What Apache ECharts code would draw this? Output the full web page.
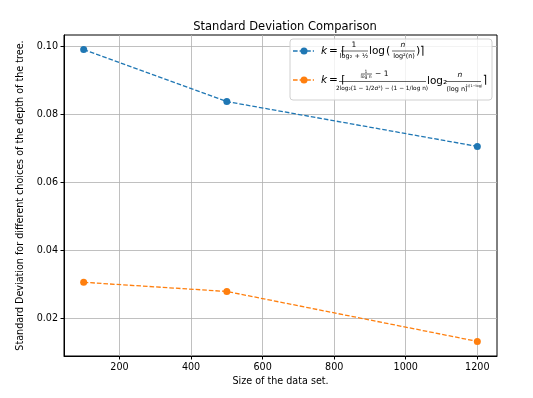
<!DOCTYPE html>
<html>
<head>
<meta charset="utf-8">
<script src="https://cdn.jsdelivr.net/npm/echarts@6/dist/echarts.min.js"></script>
<style>
  html, body { margin: 0; padding: 0; background: #fff; }
  #chart { width: 533px; height: 398px; }
</style>
</head>
<body>
<div id="chart"></div>
<script>
// data
var dataSizes = [100, 500, 1200];
var sdFormula1 = [0.0991, 0.0838, 0.0706];
var sdFormula2 = [0.0306, 0.0279, 0.0132];
var xTicks = [200, 400, 600, 800, 1000, 1200];
var yTicks = [0.02, 0.04, 0.06, 0.08, 0.10];

var blue = '#1f77b4', orange = '#ff7f0e';
var font = 'DejaVu Sans';

// matplotlib style 5% margins
function pad(arr) {
    var lo = Math.min.apply(null, arr), hi = Math.max.apply(null, arr);
    var m = (hi - lo) * 0.05;
    return [lo - m, hi + m];
}
var xr = pad(dataSizes);
var yr = pad(sdFormula1.concat(sdFormula2));

var chart = echarts.init(document.getElementById('chart'));

// legend drawn by hand (math text)
function T(x, y, s, size, align, italic) {
    return {
        type: 'text', x: x, y: y, silent: true, z: 102,
        style: {
            text: s, fill: '#000', fontFamily: font, fontSize: size,
            fontStyle: italic ? 'italic' : 'normal',
            align: align || 'left', verticalAlign: 'middle'
        }
    };
}
function bar(x1, x2, y) {
    return {
        type: 'line', silent: true, z: 102,
        shape: { x1: x1, y1: y, x2: x2, y2: y },
        style: { stroke: '#000', lineWidth: 0.6 }
    };
}
function icon(y, color) {
    return [
        { type: 'line', silent: true, z: 102, shape: { x1: 293, y1: y, x2: 314, y2: y },
          style: { stroke: color, lineWidth: 1.3, lineDash: [4.6, 2] } },
        { type: 'circle', silent: true, z: 103, shape: { cx: 304, cy: y, r: 3.5 },
          style: { fill: color } }
    ];
}

var legendEls = [
    { type: 'rect', silent: true, z: 101, shape: { x: 290, y: 39, width: 202, height: 61, r: 3 },
      style: { fill: 'rgba(255,255,255,0.8)', stroke: '#d0d0d0', lineWidth: 1 } }
].concat(icon(51, blue), [
    T(321, 51, 'k', 10.5, 'left', true),
    T(329, 51, '= ⌈', 10.5),
    T(354, 45.5, '1', 7.5, 'center'),
    bar(341, 368, 51),
    T(354, 56.5, 'log₂ + ½', 6.5, 'center'),
    T(369, 51, 'log', 10.5),
    T(386, 51, '(', 11),
    T(403, 45.5, 'n', 7.5, 'center', true),
    bar(392, 415, 51),
    T(404, 56.5, 'log²(n)', 6.5, 'center'),
    T(416, 51, ')⌉', 11)
], icon(80, orange), [
    T(321, 80, 'k', 10.5, 'left', true),
    T(329, 80, '= ⌈', 10.5),
    T(366, 71.5, '1', 4.5, 'center'),
    bar(361, 372, 74),
    T(366, 76.5, 'log n', 4.5, 'center'),
    T(375, 74.5, '− 1', 7.5),
    bar(339, 426, 81.5),
    T(382, 88, '2log₂(1 − 1/2σ²) − (1 − 1/log n)', 5.8, 'center'),
    T(427, 81, 'log₂', 10.5),
    T(460, 75.5, 'n', 7.5, 'center', true),
    bar(446, 481, 81.5),
    T(457, 89, '(log n)', 6.5, 'center'),
    T(474, 86.5, '1/(1−log)', 3.5, 'center'),
    T(483, 80, '⌉', 11)
]);

chart.setOption({
    animation: false,
    backgroundColor: '#fff',
    title: {
        text: 'Standard Deviation Comparison',
        left: 280, top: 16, textAlign: 'center',
        textStyle: { fontFamily: font, fontSize: 11.5, fontWeight: 'normal', color: '#000' }
    },
    grid: {
        left: 64, right: 36, top: 35, bottom: 42,
        show: true, borderColor: '#000', borderWidth: 1, backgroundColor: 'transparent'
    },
    xAxis: {
        type: 'value', min: xr[0], max: xr[1],
        name: 'Size of the data set.', nameLocation: 'middle', nameGap: 19,
        nameTextStyle: { fontFamily: font, fontSize: 9.6, color: '#000' },
        axisLine: { show: true, lineStyle: { color: '#000', width: 1 } },
        axisTick: { show: true, customValues: xTicks, length: 3.5, lineStyle: { color: '#000' } },
        axisLabel: { customValues: xTicks, fontFamily: font, fontSize: 9.6, color: '#000', margin: 6,
                     formatter: function (v) { return String(v); } },
        splitLine: { show: true, customValues: xTicks, lineStyle: { color: '#b0b0b0', width: 0.8 } }
    },
    yAxis: {
        type: 'value', min: yr[0], max: yr[1],
        name: 'Standard Deviation for different choices of the depth of the tree.',
        nameLocation: 'middle', nameGap: 37, nameRotate: 90,
        nameTextStyle: { fontFamily: font, fontSize: 9.6, color: '#000' },
        axisLine: { show: true, lineStyle: { color: '#000', width: 1 } },
        axisTick: { show: true, customValues: yTicks, length: 3.5, lineStyle: { color: '#000' } },
        axisLabel: { customValues: yTicks, fontFamily: font, fontSize: 9.6, color: '#000', margin: 6,
                     formatter: function (v) { return v.toFixed(2); } },
        splitLine: { show: true, customValues: yTicks, lineStyle: { color: '#b0b0b0', width: 0.8 } }
    },
    series: [{
        type: 'line', name: 'formula1',
        data: dataSizes.map(function (x, i) { return [x, sdFormula1[i]]; }),
        symbol: 'circle', symbolSize: 7,
        itemStyle: { color: blue },
        lineStyle: { color: blue, width: 1.3, type: [4.6, 2] }
    }, {
        type: 'line', name: 'formula2',
        data: dataSizes.map(function (x, i) { return [x, sdFormula2[i]]; }),
        symbol: 'circle', symbolSize: 7,
        itemStyle: { color: orange },
        lineStyle: { color: orange, width: 1.3, type: [4.6, 2] }
    }],
    graphic: legendEls
});
</script>
</body>
</html>
